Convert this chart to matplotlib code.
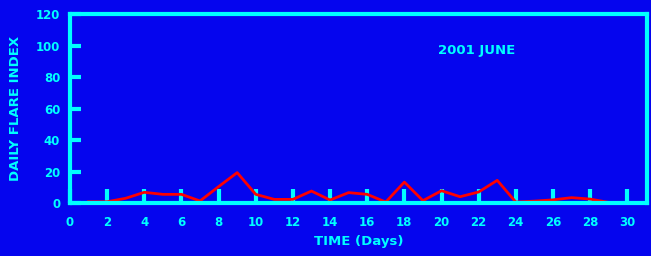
import matplotlib
matplotlib.use("Agg")
import matplotlib.pyplot as plt

# Daily flare index, June 2001
days = list(range(1, 31))
flare_index = [0.8, 0.8, 3.0, 6.8, 5.5, 5.5, 1.3, 10.4, 19.3, 5.5,
               2.3, 2.3, 7.6, 1.9, 6.6, 5.5, 0.6, 13.3, 1.5, 7.8,
               4.0, 7.0, 14.4, 0.6, 1.2, 2.0, 3.4, 2.5, 0.4, 0.4]
x_ticks = list(range(0, 31, 2))
y_ticks = [0, 20, 40, 60, 80, 100, 120]

bg = "#0505EE"
cyan = "#00FFFF"

fig = plt.figure(figsize=(6.51, 2.56), dpi=100, facecolor=bg)
ax = fig.add_axes([0.1075, 0.207, 0.886, 0.738], facecolor=bg)

ax.plot(days, flare_index, color="red", linewidth=2)

ax.set_xlim(0, 31.05)
ax.set_ylim(0, 120)
ax.set_xticks(x_ticks)
ax.set_yticks(y_ticks)
ax.tick_params(axis="both", direction="in", colors=cyan, labelsize=8.5, width=3)
ax.tick_params(axis="x", length=10, pad=9)
ax.tick_params(axis="y", length=8, pad=7)
for lab in ax.get_xticklabels() + ax.get_yticklabels():
    lab.set_fontweight("bold")

for s in ax.spines.values():
    s.set_color(cyan)
    s.set_linewidth(3)

ax.set_xlabel("TIME (Days)", color=cyan, fontsize=9.5, fontweight="bold", labelpad=5)
ax.set_ylabel("DAILY FLARE INDEX", color=cyan, fontsize=9.5, fontweight="bold", labelpad=10)
ax.text(21.9, 97, "2001 JUNE", color=cyan, fontsize=9.5, fontweight="bold",
        ha="center", va="center")

plt.savefig("out.png", dpi=100, facecolor=bg)
